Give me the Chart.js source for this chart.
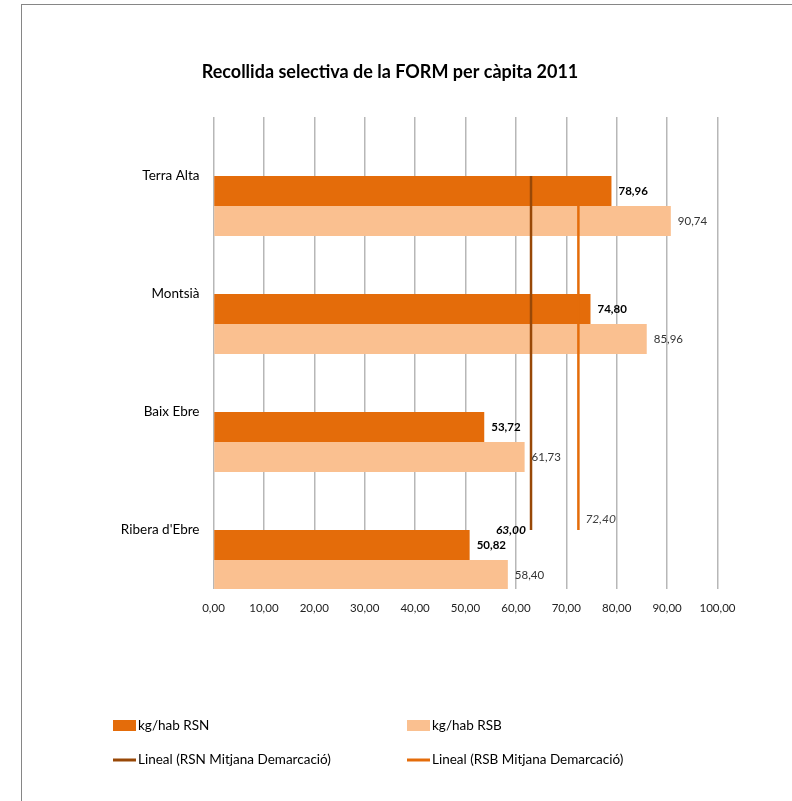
<!DOCTYPE html>
<html>
<head>
<meta charset="utf-8">
<script src="https://cdn.jsdelivr.net/npm/chart.js@4.4.1/dist/chart.umd.min.js"></script>
<style>
  html, body { margin: 0; padding: 0; background: #fff; }
  #wrap { position: relative; width: 792px; height: 801px; overflow: hidden; }
  #frame { position: absolute; left: 21px; top: 4px; right: -10px; bottom: -10px;
           border-left: 1.5px solid #868686; border-top: 1.5px solid #868686; pointer-events: none; }
  canvas { position: absolute; left: 0; top: 0; }
</style>
</head>
<body>
<div id="wrap">
  <canvas id="chart" width="792" height="801"></canvas>
  <div id="frame"></div>
</div>
<script>
const categories = ["Terra Alta", "Montsià", "Baix Ebre", "Ribera d'Ebre"];
const rsnValues = [78.96, 74.80, 53.72, 50.82];
const rsbValues = [90.74, 85.96, 61.73, 58.40];
const rsnMitjana = 63.00;
const rsbMitjana = 72.40;
// vertical extent of the average lines, in category units (0 = Terra Alta, 3 = Ribera d'Ebre)
const rsnSpan = [0, 3];
const rsbSpan = [0.25, 3];
const legendOrder = ["kg/hab RSN", "kg/hab RSB", "Lineal (RSN Mitjana Demarcació)", "Lineal (RSB Mitjana Demarcació)"];

const FONT = "Lato, 'Liberation Sans', sans-serif";
const fmt = (v) => v.toFixed(2).replace(".", ",");

const valueLabels = {
  id: "valueLabels",
  afterDatasetsDraw(chart) {
    const ctx = chart.ctx;
    ctx.save();
    ctx.textBaseline = "middle";
    chart.data.datasets.forEach((ds, i) => {
      const meta = chart.getDatasetMeta(i);
      if (ds.type === "line") {
        const p = meta.data[1];
        if (ds.label.indexOf("RSN") >= 0) {
          ctx.font = "italic bold 12px " + FONT;
          ctx.fillStyle = "#000";
          ctx.textAlign = "right";
          ctx.fillText(fmt(ds.data[1].x), p.x - 5, p.y);
        } else {
          ctx.font = "italic 12px " + FONT;
          ctx.fillStyle = "#404040";
          ctx.textAlign = "left";
          ctx.fillText(fmt(ds.data[1].x), p.x + 7, p.y - 11);
        }
        return;
      }
      const bold = ds.label.indexOf("RSN") >= 0;
      ctx.textAlign = "left";
      ctx.font = (bold ? "bold " : "") + "11.5px " + FONT;
      ctx.fillStyle = bold ? "#000" : "#333";
      meta.data.forEach((bar, j) => {
        ctx.fillText(fmt(ds.data[j]), bar.x + 7, bar.y);
      });
    });
    ctx.restore();
  }
};

const bottomLegend = {
  id: "bottomLegend",
  afterDraw(chart) {
    const ctx = chart.ctx;
    const slots = [[113, 726], [407, 726], [113, 760], [407, 760]];
    ctx.save();
    ctx.font = "13.5px " + FONT;
    ctx.textBaseline = "middle";
    ctx.textAlign = "left";
    legendOrder.forEach((label, k) => {
      const ds = chart.data.datasets.find((d) => d.label === label);
      const [x, y] = slots[k];
      if (ds.type === "line") {
        ctx.strokeStyle = ds.borderColor;
        ctx.lineWidth = 3;
        ctx.beginPath();
        ctx.moveTo(x, y);
        ctx.lineTo(x + 23, y);
        ctx.stroke();
      } else {
        ctx.fillStyle = ds.backgroundColor;
        ctx.fillRect(x, y - 6, 23, 11);
      }
      ctx.fillStyle = "#000";
      ctx.fillText(ds.label, x + 25, y);
    });
    ctx.restore();
  }
};

// the two lines each sit on their own hidden axis, like the Excel trend series,
// so the bars take the lower half of each category band
const ctx = document.getElementById("chart").getContext("2d");
new Chart(ctx, {
  data: {
    labels: categories,
    datasets: [
      {
        type: "line",
        label: "Lineal (RSN Mitjana Demarcació)",
        data: [{ x: rsnMitjana, y: rsnSpan[0] }, { x: rsnMitjana, y: rsnSpan[1] }],
        yAxisID: "y2",
        borderColor: "#984807",
        borderWidth: 2.5,
        pointRadius: 0,
        order: 0,
      },
      {
        type: "line",
        label: "Lineal (RSB Mitjana Demarcació)",
        data: [{ x: rsbMitjana, y: rsbSpan[0] }, { x: rsbMitjana, y: rsbSpan[1] }],
        yAxisID: "y3",
        borderColor: "#E46C0A",
        borderWidth: 2.5,
        pointRadius: 0,
        order: 0,
      },
      {
        type: "bar",
        label: "kg/hab RSN",
        data: rsnValues,
        yAxisID: "y",
        backgroundColor: "#E46C0A",
        barPercentage: 1.0,
        categoryPercentage: 1.017,
        order: 1,
      },
      {
        type: "bar",
        label: "kg/hab RSB",
        data: rsbValues,
        yAxisID: "yB",
        backgroundColor: "#FAC090",
        barPercentage: 1.0,
        categoryPercentage: 1.017,
        order: 1,
      },
    ],
  },
  options: {
    indexAxis: "y",
    responsive: false,
    animation: false,
    layout: { padding: { top: 0, left: 0, right: 12, bottom: 0 } },
    scales: {
      x: {
        type: "linear",
        min: 0,
        max: 100,
        ticks: {
          stepSize: 10,
          padding: 12,
          color: "#222",
          font: { family: FONT, size: 11.5 },
          callback: (v) => fmt(v),
        },
        grid: { color: "#b7b7b7", lineWidth: 1.5, drawTicks: false },
        border: { display: false },
        afterFit: (scale) => { scale.height = 212; },
      },
      y: {
        type: "category",
        offset: true,
        ticks: {
          padding: 14,
          color: "#000",
          font: { family: FONT, size: 13.5 },
        },
        grid: { display: false, drawTicks: false },
        border: { display: false },
        afterFit: (scale) => { scale.width = 213.5; },
      },
      yB: {
        type: "category",
        offset: true,
        display: false,
      },
      y2: {
        type: "linear",
        position: "right",
        reverse: true,
        min: -0.5,
        max: 3.5,
        ticks: { display: false },
        grid: { display: false, drawTicks: false },
        border: { display: false },
        afterFit: (scale) => { scale.width = 62.5; },
      },
      y3: {
        type: "linear",
        position: "right",
        reverse: true,
        min: -0.5,
        max: 3.5,
        display: false,
      },
    },
    plugins: {
      legend: { display: false },
      tooltip: { enabled: false },
      title: {
        display: true,
        text: "Recollida selectiva de la FORM per càpita 2011",
        color: "#000",
        font: { family: FONT, size: 18, weight: "bold", lineHeight: 1.2 },
        padding: { top: 61, bottom: 34.4 },
      },
    },
  },
  plugins: [valueLabels, bottomLegend],
});
</script>
</body>
</html>
